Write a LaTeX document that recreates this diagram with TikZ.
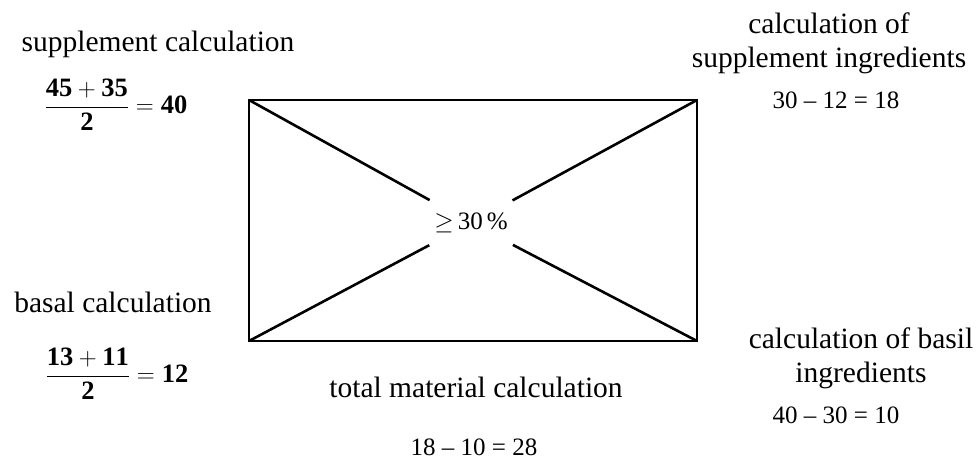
\documentclass[tikz,border=0pt]{standalone}
\usepackage{amsmath}
\usepackage{fontspec}
\setmainfont{Liberation Serif}
\newcommand{\calcfrac}[3]{\ensuremath{\mathbf{\dfrac{#1}{#2}=#3}}}

\begin{document}
\begin{tikzpicture}[x=1pt,y=-1pt,font=\fontsize{29.5}{34}\selectfont,line width=2.6pt]
\tikzset{calc/.style={font=\fontsize{25}{30}\selectfont,anchor=base,inner sep=0pt},
  label/.style={anchor=base,inner sep=0pt,align=center}}
\useasboundingbox (0,0) rectangle (979,459);
\coordinate (tl) at (249,100);
\coordinate (tr) at (697,100);
\coordinate (bl) at (249,341);
\coordinate (br) at (697,341);
\node[circle,minimum size=92pt,inner sep=0pt,font=\fontsize{25}{30}\selectfont] (mid) at (471,223) {$\geq$\,30\,\%};
\draw (tl) rectangle (br);
\draw (tl)--(mid);
\draw (tr)--(mid);
\draw (bl)--(mid);
\draw (br)--(mid);
\node[label] (supp) at (158,51) {supplement calculation};
\node[font=\fontsize{26.5}{30}\selectfont] (suppval) at (116,105) {\calcfrac{45+35}{2}{40}};
\node[label] (basal) at (113,312) {basal calculation};
\node[font=\fontsize{26.5}{30}\selectfont] (basalval) at (117,374) {\calcfrac{13+11}{2}{12}};
\node[label] (ingsupp) at (829,67) {calculation of\\supplement ingredients};
\node[calc] (ingsuppval) at (836,108) {30 -- 12 = 18};
\node[label] (ingbasil) at (861,382) {calculation of basil\\ingredients};
\node[calc] (ingbasilval) at (836,423) {40 -- 30 = 10};
\node[label] (total) at (476,397) {total material calculation};
\node[calc] (totalval) at (474,455) {18 -- 10 = 28};
\end{tikzpicture}
\end{document}
